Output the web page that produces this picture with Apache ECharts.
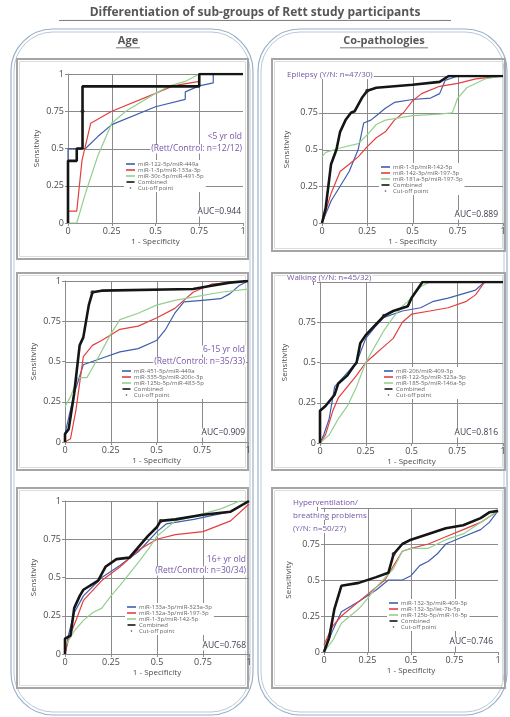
<!DOCTYPE html>
<html>
<head>
<meta charset="utf-8">
<script src="https://cdn.jsdelivr.net/npm/echarts@6/dist/echarts.min.js"></script>
<style>
  html, body { margin: 0; padding: 0; background: #fff; }
  #chart { width: 510px; height: 717px; }
</style>
</head>
<body>
<div id="chart"></div>
<script>
// Axis ticks shared by every ROC panel (also used for the reference grid)
const tickValues = [0, 0.25, 0.5, 0.75, 1];

// ---- Age: <5 yr old (Rett/Control n=12/12) ----
const lt5Names = ['miR-122-5p/miR-449a', 'miR-1-3p/miR-133a-3p', 'miR-30c-5p/miR-491-5p'];
const lt5Blue = [[0,0],[0,0.5],[0.1,0.5],[0.17,0.58],[0.25,0.66],[0.5,0.78],[0.67,0.83],[0.67,0.88],[0.75,0.92],[0.83,0.94],[0.83,1],[1,1]];
const lt5Red = [[0,0],[0,0.08],[0.05,0.08],[0.08,0.42],[0.13,0.67],[0.25,0.75],[0.5,0.87],[0.6,0.92],[0.75,0.95],[0.75,1],[1,1]];
const lt5Green = [[0,0],[0.05,0],[0.1,0.2],[0.17,0.45],[0.25,0.67],[0.33,0.75],[0.5,0.87],[0.58,0.92],[0.67,0.95],[0.75,1],[1,1]];
const lt5Combined = [[0,0],[0,0.417],[0.05,0.417],[0.05,0.5],[0.083,0.5],[0.083,0.917],[0.75,0.917],[0.75,1],[1,1]];
const lt5Cut = [[0.083,0.75]];

// ---- Age: 6-15 yr old (n=35/33) ----
const mid15Names = ['miR-451-5p/miR-449a', 'miR-335-5p/miR-200c-3p', 'miR-125b-5p/miR-483-5p'];
const mid15Blue = [[0,0],[0,0.05],[0.05,0.3],[0.1,0.48],[0.2,0.52],[0.3,0.56],[0.4,0.58],[0.5,0.63],[0.55,0.7],[0.6,0.8],[0.65,0.87],[0.75,0.88],[0.85,0.89],[0.9,0.92],[0.95,0.97],[1,1]];
const mid15Red = [[0,0],[0.03,0.02],[0.06,0.2],[0.1,0.53],[0.15,0.6],[0.2,0.63],[0.3,0.7],[0.4,0.72],[0.5,0.77],[0.6,0.83],[0.7,0.93],[0.8,0.98],[1,1]];
const mid15Green = [[0,0.22],[0.03,0.28],[0.07,0.4],[0.12,0.4],[0.17,0.5],[0.25,0.67],[0.3,0.76],[0.4,0.8],[0.5,0.85],[0.6,0.88],[0.7,0.9],[0.85,0.93],[1,0.95]];
const mid15Combined = [[0,0],[0,0.05],[0.02,0.08],[0.05,0.3],[0.08,0.6],[0.1,0.65],[0.13,0.85],[0.15,0.93],[0.2,0.94],[0.7,0.95],[0.8,0.97],[0.9,0.99],[1,1]];
const mid15Cut = [[0.15,0.93]];

// ---- Age: 16+ yr old (n=30/34) ----
const old16Names = ['miR-133a-3p/miR-323a-3p', 'miR-132a-3p/miR-197-3p', 'miR-1-3p/miR-142-5p'];
const old16Blue = [[0,0],[0.02,0.13],[0.05,0.27],[0.1,0.38],[0.2,0.5],[0.3,0.58],[0.4,0.67],[0.5,0.8],[0.55,0.85],[0.7,0.88],[0.9,0.93],[1,1]];
const old16Red = [[0,0],[0.02,0.1],[0.06,0.22],[0.1,0.35],[0.2,0.48],[0.3,0.57],[0.4,0.68],[0.5,0.75],[0.6,0.78],[0.75,0.8],[0.9,0.87],[1,0.98]];
const old16Green = [[0,0.05],[0.05,0.15],[0.1,0.22],[0.15,0.27],[0.2,0.3],[0.25,0.38],[0.3,0.45],[0.4,0.6],[0.45,0.68],[0.5,0.77],[0.6,0.87],[0.7,0.9],[0.85,0.95],[0.95,1],[1,1]];
const old16Combined = [[0,0],[0,0.1],[0.03,0.12],[0.05,0.3],[0.08,0.38],[0.1,0.42],[0.18,0.48],[0.22,0.57],[0.28,0.62],[0.35,0.63],[0.4,0.7],[0.45,0.77],[0.5,0.83],[0.52,0.87],[0.6,0.88],[0.75,0.91],[0.9,0.93],[1,1]];
const old16Cut = [[0.52,0.87]];

// ---- Co-pathology: Epilepsy (Y/N n=47/30) ----
const epiNames = ['miR-1-3p/miR-142-5p', 'miR-142-3p/miR-197-3p', 'miR-181a-5p/miR-197-3p'];
const epiBlue = [[0,0],[0.05,0.15],[0.1,0.25],[0.15,0.35],[0.2,0.5],[0.23,0.68],[0.27,0.7],[0.3,0.73],[0.35,0.78],[0.4,0.82],[0.5,0.84],[0.6,0.85],[0.65,0.88],[0.68,0.97],[0.75,1],[1,1]];
const epiRed = [[0,0],[0.05,0.2],[0.1,0.35],[0.15,0.4],[0.2,0.45],[0.25,0.52],[0.3,0.58],[0.35,0.62],[0.4,0.7],[0.45,0.75],[0.5,0.83],[0.55,0.88],[0.65,0.93],[0.75,0.95],[0.85,0.98],[1,1]];
const epiGreen = [[0,0.45],[0.02,0.48],[0.1,0.51],[0.2,0.54],[0.25,0.6],[0.3,0.67],[0.35,0.7],[0.5,0.73],[0.65,0.74],[0.72,0.75],[0.75,0.85],[0.8,0.92],[0.9,0.98],[1,1]];
const epiCombined = [[0,0],[0.02,0.1],[0.05,0.4],[0.08,0.5],[0.1,0.62],[0.13,0.7],[0.16,0.75],[0.18,0.76],[0.22,0.85],[0.25,0.9],[0.3,0.92],[0.5,0.94],[0.65,0.96],[0.7,1],[1,1]];
const epiCut = [[0.25,0.9]];

// ---- Co-pathology: Walking (Y/N n=45/32) ----
const walkNames = ['miR-206/miR-409-3p', 'miR-122-5p/miR-323a-3p', 'miR-185-5p/miR-146a-5p'];
const walkBlue = [[0,0],[0.02,0.05],[0.05,0.15],[0.08,0.35],[0.12,0.4],[0.2,0.5],[0.25,0.65],[0.3,0.72],[0.35,0.78],[0.45,0.82],[0.55,0.84],[0.62,0.88],[0.7,0.9],[0.85,0.95],[0.9,1],[1,1]];
const walkRed = [[0,0],[0.03,0.05],[0.07,0.2],[0.1,0.28],[0.15,0.35],[0.2,0.42],[0.25,0.5],[0.3,0.55],[0.35,0.6],[0.4,0.65],[0.45,0.75],[0.5,0.8],[0.6,0.82],[0.7,0.84],[0.8,0.88],[0.85,0.92],[0.9,1],[1,1]];
const walkGreen = [[0,0],[0.05,0.05],[0.1,0.15],[0.15,0.23],[0.2,0.35],[0.25,0.5],[0.3,0.6],[0.35,0.7],[0.4,0.78],[0.45,0.85],[0.5,0.9],[0.55,0.97],[0.6,1],[1,1]];
const walkCombined = [[0,0],[0,0.2],[0.03,0.23],[0.08,0.3],[0.1,0.37],[0.15,0.42],[0.18,0.47],[0.2,0.5],[0.22,0.62],[0.25,0.67],[0.3,0.73],[0.35,0.79],[0.4,0.82],[0.48,0.85],[0.5,0.9],[0.56,1],[1,1]];
const walkCut = [[0.35,0.79]];

// ---- Co-pathology: Hyperventilation / breathing problems (Y/N n=50/27) ----
const hypNames = ['miR-132-3p/miR-409-3p', 'miR-132-3p/let-7b-5p', 'miR-125b-5p/miR-16-5p'];
const hypBlue = [[0,0],[0.05,0.15],[0.1,0.28],[0.2,0.35],[0.3,0.43],[0.37,0.5],[0.45,0.5],[0.5,0.53],[0.55,0.6],[0.6,0.63],[0.65,0.68],[0.7,0.75],[0.8,0.8],[0.9,0.85],[0.95,0.9],[1,0.98]];
const hypRed = [[0,0.05],[0.05,0.18],[0.1,0.25],[0.15,0.3],[0.25,0.4],[0.35,0.5],[0.45,0.7],[0.5,0.72],[0.6,0.75],[0.7,0.8],[0.8,0.85],[0.9,0.9],[1,0.98]];
const hypGreen = [[0,0],[0.05,0.08],[0.1,0.2],[0.2,0.3],[0.25,0.37],[0.3,0.45],[0.4,0.58],[0.45,0.7],[0.5,0.72],[0.6,0.72],[0.7,0.78],[0.8,0.82],[0.9,0.9],[1,0.98]];
const hypCombined = [[0,0],[0.03,0.1],[0.06,0.3],[0.1,0.46],[0.2,0.48],[0.3,0.52],[0.37,0.55],[0.4,0.68],[0.45,0.75],[0.5,0.78],[0.6,0.82],[0.7,0.86],[0.8,0.88],[0.9,0.93],[0.95,0.97],[1,0.98]];
const hypCut = [[0.4,0.68]];

// AUC values printed in each panel
const aucValues = ['0.944', '0.909', '0.768', '0.889', '0.816', '0.746'];

// Line colours
const C_BLUE = '#3f5fae', C_RED = '#e2403f', C_GREEN = '#93d08f', C_BLACK = '#151515';
const PURPLE = '#7356a6', AXIS_GREY = '#8c8c8c', GRID_GREY = '#8a8a8a', TEXT_GREY = '#4a4a4a';
const FONT = '"Open Sans", "DejaVu Sans", sans-serif';

// Stacking order: grid lines < curves < cut-off dots < legend < notes
const Z_GRID = 5, Z_CURVE = 6, Z_COMBINED = 7, Z_DOT = 8, Z_LEGEND = 9, Z_NOTE = 10;

// Panel layout: plot area and legend anchor
const panels = [
  { grid: [68, 74, 175, 149],  legend: [124, 160], names: lt5Names,   curves: [lt5Blue, lt5Red, lt5Green, lt5Combined], cut: lt5Cut },
  { grid: [65, 281, 183, 161], legend: [120, 367], names: mid15Names, curves: [mid15Blue, mid15Red, mid15Green, mid15Combined], cut: mid15Cut },
  { grid: [65, 501, 184, 153], legend: [125, 603], names: old16Names, curves: [old16Blue, old16Red, old16Green, old16Combined], cut: old16Cut },
  { grid: [322, 76, 181, 147], legend: [379, 163], names: epiNames,   curves: [epiBlue, epiRed, epiGreen, epiCombined], cut: epiCut },
  { grid: [320, 282, 183, 161], legend: [382, 367], names: walkNames, curves: [walkBlue, walkRed, walkGreen, walkCombined], cut: walkCut },
  { grid: [324, 508, 174, 144], legend: [387, 599], names: hypNames,  curves: [hypBlue, hypRed, hypGreen, hypCombined], cut: hypCut }
];

const grids = [], xAxes = [], yAxes = [], series = [], legends = [];
const lineColors = [C_BLUE, C_RED, C_GREEN, C_BLACK];
const lineWidths = [1.2, 1.2, 1.2, 2.6];

// Reference grid: vertical lines at inner x ticks, horizontal lines at every y tick above 0
const vGridTicks = tickValues.filter(v => v > 0 && v < 1);
const hGridTicks = tickValues.filter(v => v > 0);

panels.forEach((p, i) => {
  const [l, t, w, h] = p.grid;
  grids.push({ left: l, top: t, width: w, height: h, containLabel: false });
  const axisCommon = () => ({
    type: 'value', min: 0, max: 1, interval: 0.25,
    axisLine: { show: true, lineStyle: { color: AXIS_GREY, width: 1 } },
    axisTick: { show: true, length: 3, lineStyle: { color: AXIS_GREY } },
    splitLine: { show: false },
    axisLabel: { color: TEXT_GREY, fontSize: 9, fontFamily: FONT, margin: 4 },
    nameLocation: 'middle',
    nameTextStyle: { color: TEXT_GREY, fontSize: 8, fontFamily: FONT }
  });
  xAxes.push(Object.assign(axisCommon(), { gridIndex: i, name: '1 - Specificity', nameGap: 15 }));
  yAxes.push(Object.assign(axisCommon(), { gridIndex: i, name: 'Sensitivity', nameGap: i >= 3 ? 31 : 27 }));

  const names = p.names.concat(['Combined']);
  names.forEach((nm, k) => {
    series.push({
      type: 'line', name: nm, xAxisIndex: i, yAxisIndex: i,
      data: p.curves[k], showSymbol: false, symbol: 'none',
      lineStyle: { color: lineColors[k], width: lineWidths[k] },
      itemStyle: { color: lineColors[k] },
      z: k === 3 ? Z_COMBINED : Z_CURVE, silent: true, animation: false
    });
  });
  series.push({
    type: 'scatter', name: 'Cut-off point', xAxisIndex: i, yAxisIndex: i,
    data: p.cut, symbol: 'circle', symbolSize: 4,
    itemStyle: { color: '#222' }, z: Z_DOT, silent: true, animation: false
  });

  const legendData = names.map((nm, k) => ({
    name: nm,
    icon: k === 3 ? 'path://M0,0 L20,0 L20,4 L0,4 Z' : 'rect',
    itemStyle: { color: lineColors[k] }
  }));
  legendData.push({ name: 'Cut-off point', icon: 'circle', itemStyle: { color: '#222' } });
  legends.push({
    left: p.legend[0], top: p.legend[1], orient: 'vertical',
    data: legendData, itemWidth: 9, itemHeight: 1.6, itemGap: 0,
    selectedMode: false, backgroundColor: '#fff', padding: [1, 2, 1, 2],
    textStyle: { fontSize: 6, lineHeight: 6, color: '#666', fontFamily: FONT, padding: [0, 0, 0, -2] },
    z: Z_LEGEND
  });
});

// Decorative frames, headings and in-panel annotations
const g = [];
function frame(x, y, w, h, r) {
  g.push({ type: 'rect', shape: { x, y, width: w, height: h, r }, style: { fill: 'none', stroke: '#9cb0c8', lineWidth: 1.2 }, z: -5, silent: true });
  g.push({ type: 'rect', shape: { x: x + 3, y: y + 3, width: w - 6, height: h - 6, r: r - 3 }, style: { fill: 'none', stroke: '#b9c7d8', lineWidth: 1 }, z: -5, silent: true });
}
frame(11, 29, 242, 686, 42);
frame(258, 29, 249, 686, 42);

function box(x, y, w, h) {
  g.push({ type: 'rect', shape: { x, y, width: w, height: h }, style: { fill: 'none', stroke: '#a5a5a5', lineWidth: 2 }, z: -4, silent: true });
  g.push({ type: 'rect', shape: { x: x + 2.5, y: y + 2.5, width: w - 5, height: h - 5 }, style: { fill: 'none', stroke: '#dcdcdc', lineWidth: 1 }, z: -4, silent: true });
}
box(17, 59, 231, 200);
box(17, 273, 231, 197);
box(17, 488, 231, 200);
box(272, 59, 233, 192);
box(272, 273, 233, 197);
box(272, 488, 233, 200);

function heading(text, x, y, size, w) {
  g.push({ type: 'text', x, y, style: { text, fill: '#575757', font: 'bold ' + size + 'px ' + FONT, align: 'center', verticalAlign: 'middle' }, z: Z_NOTE, silent: true });
  g.push({ type: 'line', shape: { x1: x - w / 2, y1: y + size * 0.62, x2: x + w / 2, y2: y + size * 0.62 }, style: { stroke: '#7a7a7a', lineWidth: 1 }, z: Z_NOTE, silent: true });
}
heading('Differentiation of sub-groups of Rett study participants', 255, 13, 12, 392);
heading('Age', 128, 41, 11, 24);
heading('Co-pathologies', 384, 41, 11, 88);

function note(text, x, y, align, size, color) {
  g.push({ type: 'text', x, y, style: { text, fill: color, font: 'normal ' + size + 'px ' + FONT, align, verticalAlign: 'middle', backgroundColor: '#fff', padding: [0, 1] }, z: Z_NOTE, silent: true });
}
const AUC_COLOR = '#3b3b4f';
// Age panels
note('<5 yr old', 243, 137, 'right', 8.5, PURPLE);
note('(Rett/Control: n=12/12)', 243, 149, 'right', 8.5, PURPLE);
note('AUC=' + aucValues[0], 242, 212, 'right', 8.5, AUC_COLOR);
note('6-15 yr old', 246, 350, 'right', 8.5, PURPLE);
note('(Rett/Control: n=35/33)', 246, 362, 'right', 8.5, PURPLE);
note('AUC=' + aucValues[1], 246, 433, 'right', 8.5, AUC_COLOR);
note('16+ yr old', 247, 560, 'right', 8.5, PURPLE);
note('(Rett/Control: n=30/34)', 247, 571, 'right', 8.5, PURPLE);
note('AUC=' + aucValues[2], 247, 646, 'right', 8.5, AUC_COLOR);
// Co-pathology panels
note('Epilepsy (Y/N: n=47/30)', 286, 75, 'left', 8, PURPLE);
note('AUC=' + aucValues[3], 499, 215, 'right', 8.5, AUC_COLOR);
note('Walking (Y/N: n=45/32)', 286, 278, 'left', 8, PURPLE);
note('AUC=' + aucValues[4], 499, 433, 'right', 8.5, AUC_COLOR);
note('Hyperventilation/', 292, 503, 'left', 8, PURPLE);
note('breathing problems', 292, 516, 'left', 8, PURPLE);
note('(Y/N: n=50/27)', 292, 529, 'left', 8, PURPLE);
note('AUC=' + aucValues[5], 494, 642, 'right', 8.5, AUC_COLOR);

const chart = echarts.init(document.getElementById('chart'), null, { renderer: 'canvas' });
chart.setOption({
  backgroundColor: '#fff',
  animation: false,
  grid: grids,
  xAxis: xAxes,
  yAxis: yAxes,
  legend: legends,
  series: series,
  graphic: g
});

// Grid lines placed through each panel's own axis scales, just beneath the curves
const crisp = v => Math.round(v) + 0.5;
panels.forEach((p, i) => {
  const finder = { xAxisIndex: i, yAxisIndex: i };
  vGridTicks.forEach(v => {
    const a = chart.convertToPixel(finder, [v, 0]);
    const b = chart.convertToPixel(finder, [v, 1]);
    g.push({ type: 'line', shape: { x1: crisp(a[0]), y1: a[1], x2: crisp(b[0]), y2: b[1] },
      style: { stroke: GRID_GREY, lineWidth: 1 }, z: Z_GRID, silent: true });
  });
  hGridTicks.forEach(v => {
    const a = chart.convertToPixel(finder, [0, v]);
    const b = chart.convertToPixel(finder, [1, v]);
    g.push({ type: 'line', shape: { x1: a[0], y1: crisp(a[1]), x2: b[0], y2: crisp(b[1]) },
      style: { stroke: GRID_GREY, lineWidth: 1 }, z: Z_GRID, silent: true });
  });
});
chart.setOption({ graphic: g });
</script>
</body>
</html>
